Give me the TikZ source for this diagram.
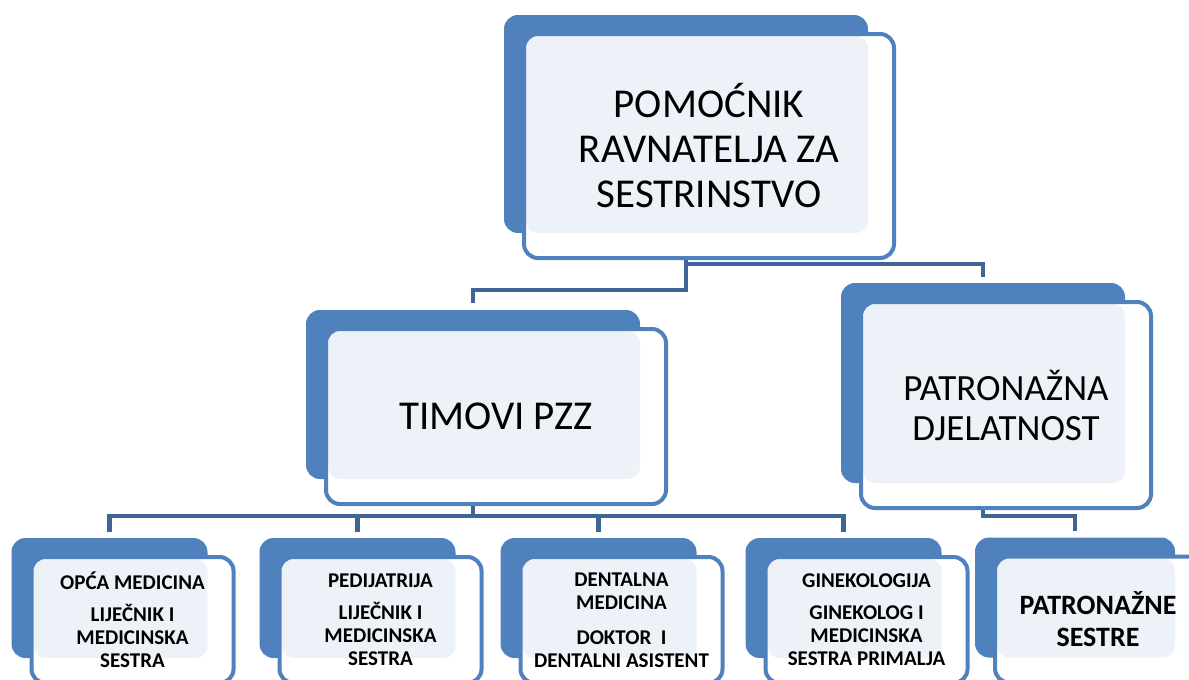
\documentclass[tikz,border=0pt]{standalone}
\usepackage{fontspec}
\setmainfont{Carlito}
\usepackage{tikz}
\definecolor{okvir}{RGB}{79,129,189}
\definecolor{svijetla}{RGB}{237,242,249}
\definecolor{vezaplava}{RGB}{63,100,150}

\begin{document}
\begin{tikzpicture}[x=1pt, y=-1pt,
    pozadina/.style={fill=okvir, rounded corners=14pt, inner sep=0pt},
    prednji/.style={draw=okvir, line width=4pt, fill=white, rounded corners=14pt,
      inner sep=0pt, align=center,
      path picture={\fill[svijetla, rounded corners=12pt]
        ([shift={(2pt,-2pt)}]path picture bounding box.north west) rectangle
        ([shift={(-26pt,25pt)}]path picture bounding box.south east);}},
    spoj/.style={draw=vezaplava, line width=4.5pt},
    mali/.style={pozadina, minimum width=196pt, minimum height=120pt},
    malitekst/.style={prednji, minimum width=202pt, minimum height=126pt,
      font=\bfseries\fontsize{21}{23}\selectfont}]
    \useasboundingbox (0,0) rectangle (1189,680);

    % plave pozadine
    \node[pozadina, minimum width=364pt, minimum height=218pt] (topb) at (686,124) {};
    \node[pozadina, minimum width=334pt, minimum height=169pt] (timb) at (473,394.5) {};
    \node[pozadina, minimum width=284pt, minimum height=200pt] (patb) at (983,383) {};
    \node[mali] (opcab) at (109.5,598) {};
    \node[mali] (pedb) at (357.5,598) {};
    \node[mali] (dentb) at (598.5,598) {};
    \node[mali] (ginb) at (843.5,598) {};
    \node[mali, minimum width=200pt] (psb) at (1075,597.5) {};

    % veze
    \draw[spoj] (topb.south) -- ++(0,57) -| ([yshift=7pt]timb.north);
    \draw[spoj] (topb.south) -- ++(0,31) -| ([yshift=6pt]patb.north);
    \foreach \dijete in {opcab,pedb,dentb,ginb}
      \draw[spoj] (timb.south) -- ++(0,37) -| ([yshift=6pt]\dijete.north);
    \draw[spoj] (patb.south) -- ++(0,33) -| ([yshift=6pt]psb.north);

    % okviri s tekstom
    \node[prednji, minimum width=370pt, minimum height=224pt,
      font=\fontsize{41}{45}\selectfont] (top) at ([shift={(23,22)}]topb.center)
      {POMOĆNIK\\RAVNATELJA ZA\\SESTRINSTVO};
    \node[prednji, minimum width=340pt, minimum height=175pt,
      font=\fontsize{41}{45}\selectfont] (tim) at ([shift={(23,22)}]timb.center)
      {TIMOVI PZZ};
    \node[prednji, minimum width=290pt, minimum height=206pt,
      font=\fontsize{37}{40}\selectfont] (pat) at ([shift={(23,22)}]patb.center)
      {PATRONAŽNA\\DJELATNOST};
    \node[malitekst] (opca) at ([shift={(23,22)}]opcab.center)
      {OPĆA MEDICINA\\[9pt]LIJEČNIK I\\MEDICINSKA\\SESTRA};
    \node[malitekst] (ped) at ([shift={(23,22)}]pedb.center)
      {PEDIJATRIJA\\[9pt]LIJEČNIK I\\MEDICINSKA\\SESTRA};
    \node[malitekst] (dent) at ([shift={(23,22)}]dentb.center)
      {DENTALNA\\MEDICINA\\[12pt]DOKTOR\ \ I\\DENTALNI ASISTENT};
    \node[malitekst] (gin) at ([shift={(23,22)}]ginb.center)
      {GINEKOLOGIJA\\[9pt]GINEKOLOG I\\MEDICINSKA\\SESTRA PRIMALJA};
    \node[malitekst, minimum width=206pt,
      font=\bfseries\fontsize{28}{32}\selectfont] (ps) at ([shift={(23,22)}]psb.center)
      {PATRONAŽNE\\SESTRE};
\end{tikzpicture}
\end{document}
